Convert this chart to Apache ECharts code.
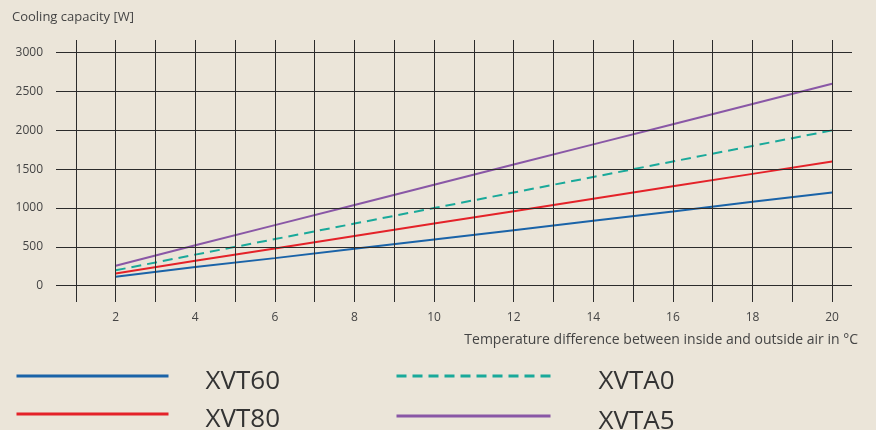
<!DOCTYPE html>
<html>
<head>
<meta charset="utf-8">
<script src="https://cdn.jsdelivr.net/npm/echarts@6/dist/echarts.min.js"></script>
<style>
html,body{margin:0;padding:0;background:#ebe5d9;}
#chart{width:876px;height:430px;}
</style>
</head>
<body>
<div id="chart"></div>
<script>
const xValues = [2, 4, 6, 8, 10, 12, 14, 16, 18, 20];
const xvt60 = [115, 240, 355, 475, 595, 715, 835, 955, 1080, 1200];
const xvt80 = [158, 320, 480, 640, 800, 960, 1120, 1280, 1440, 1600];
const xvta0 = [198, 400, 600, 800, 1000, 1200, 1400, 1600, 1800, 2000];
const xvta5 = [258, 520, 780, 1040, 1300, 1560, 1820, 2080, 2340, 2600];
const xTickLabels = [2, 4, 6, 8, 10, 12, 14, 16, 18, 20];
const yTickLabels = [0, 500, 1000, 1500, 2000, 2500, 3000];
const xGridValues = [1,2,3,4,5,6,7,8,9,10,11,12,13,14,15,16,17,18,19,20];

const font = '"Open Sans", "Noto Sans", sans-serif';
const pair = (ys) => xValues.map((x, i) => [x, ys[i]]);

const chart = echarts.init(document.getElementById('chart'), null, {renderer: 'canvas'});
const gridLines = {
  silent: true,
  symbol: 'none',
  label: {show: false},
  lineStyle: {color: '#2b2b2b', width: 1, type: 'solid'},
  data: yTickLabels.map(v => ({yAxis: v})).concat(xGridValues.map(v => ({xAxis: v})))
};

function legendAt(name, left, top, width, padLeft) {
  return {
    data: [name], orient: 'horizontal', left: left, top: top,
    itemWidth: width, itemHeight: 1, itemGap: 0,
    itemStyle: {opacity: 0},
    lineStyle: {width: 3},
    formatter: n => '{s|}\n{t|' + n + '}',
    textStyle: {
      fontSize: 26, color: '#333', fontFamily: font, padding: [0, 0, 0, padLeft],
      rich: {
        s: {lineHeight: 12, fontSize: 10},
        t: {lineHeight: 24, fontSize: 26, color: '#333', fontFamily: font}
      }
    }
  };
}

chart.setOption({
  backgroundColor: '#ebe5d9',
  animation: false,
  textStyle: {fontFamily: font},
  title: [
    {
      text: 'Cooling capacity [W]',
      left: 7, top: 6,
      textStyle: {fontFamily: font, fontSize: 13, fontWeight: 'normal', color: '#444'}
    },
    {
      text: 'Temperature difference between inside and outside air in °C',
      right: 13, top: 328,
      textStyle: {fontFamily: font, fontSize: 14, fontWeight: 'normal', color: '#444'}
    }
  ],
  grid: {left: 56, right: 24, top: 40, bottom: 128, outerBoundsMode: 'none', containLabel: false},
  xAxis: {
    type: 'value', min: 0.5, max: 20.5,
    axisLine: {show: false}, axisTick: {show: false}, splitLine: {show: false},
    axisLabel: {customValues: xTickLabels, color: '#444', fontSize: 12, margin: 10, fontFamily: font}
  },
  yAxis: {
    type: 'value', min: -210, max: 3164,
    axisLine: {show: false}, axisTick: {show: false}, splitLine: {show: false},
    axisLabel: {customValues: yTickLabels, color: '#444', fontSize: 12, margin: 13, fontFamily: font,
      formatter: v => String(v)}
  },
  legend: [
    legendAt('XVT60', 10, 354, 152, 32),
    legendAt('XVT80', 10, 392, 152, 32),
    legendAt('XVTA0', 390, 354, 154, 43),
    legendAt('XVTA5', 390, 394, 154, 43)
  ],
  series: [
    {name: 'grid', type: 'line', data: [], markLine: gridLines, z: 1},
    {name: 'XVT60', type: 'line', data: pair(xvt60), showSymbol: false, symbol: 'none', z: 3,
     lineStyle: {color: '#1a63a8', width: 2}, itemStyle: {color: '#1a63a8'}},
    {name: 'XVT80', type: 'line', data: pair(xvt80), showSymbol: false, symbol: 'none', z: 3,
     lineStyle: {color: '#e42229', width: 2}, itemStyle: {color: '#e42229'}},
    {name: 'XVTA0', type: 'line', data: pair(xvta0), showSymbol: false, symbol: 'none', z: 3,
     lineStyle: {color: '#19a99a', width: 2, type: [10, 6]}, itemStyle: {color: '#19a99a'}},
    {name: 'XVTA5', type: 'line', data: pair(xvta5), showSymbol: false, symbol: 'none', z: 3,
     lineStyle: {color: '#8957a6', width: 2}, itemStyle: {color: '#8957a6'}}
  ]
});
</script>
</body>
</html>
